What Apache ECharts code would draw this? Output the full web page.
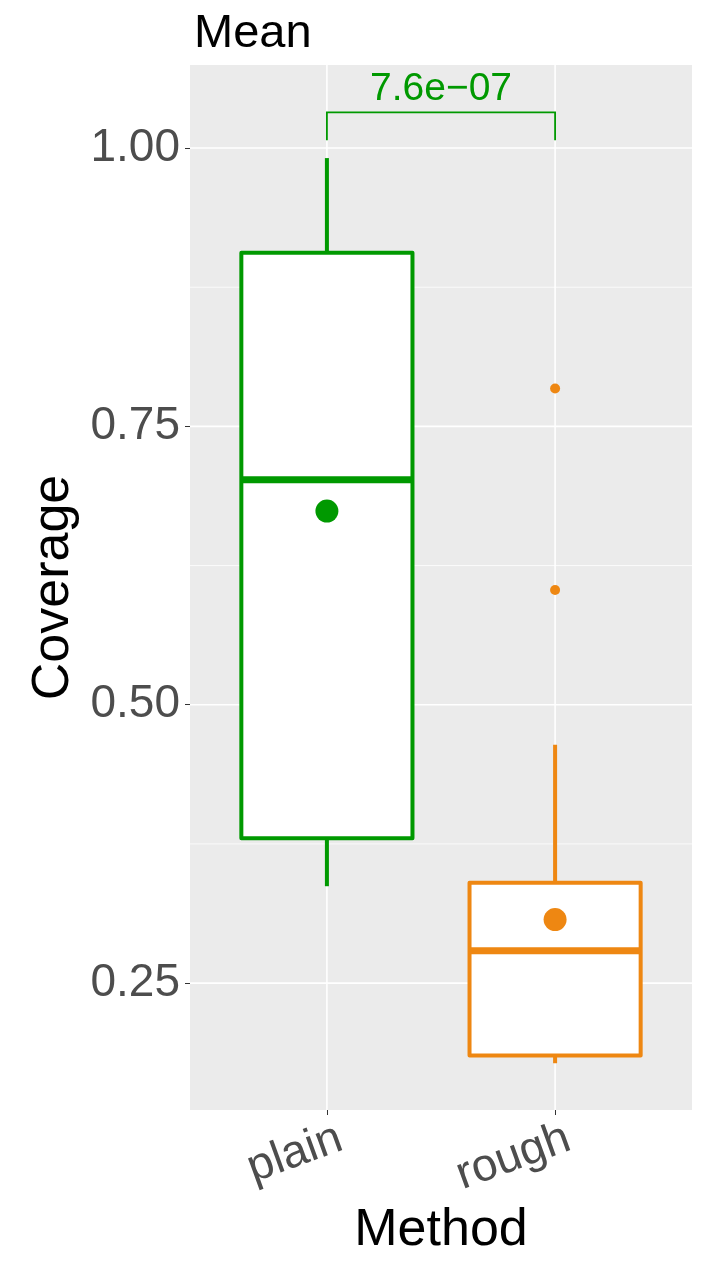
<!DOCTYPE html>
<html>
<head>
<meta charset="utf-8">
<script src="https://cdn.jsdelivr.net/npm/echarts@6/dist/echarts.min.js"></script>
<style>
  html, body { margin: 0; padding: 0; background: #fff; }
  #chart { width: 706px; height: 1270px; }
</style>
</head>
<body>
<div id="chart"></div>
<script>
// box stats
const categories = ["plain", "rough"];
const whiskerLow = [0.337, 0.178];
const q1 = [0.380, 0.185];
const median = [0.702, 0.279];
const q3 = [0.906, 0.340];
const whiskerHigh = [0.991, 0.464];
const means = [0.674, 0.307];
const outlierCat = ["rough", "rough"];
const outlierVal = [0.784, 0.603];
const yTicks = [0.25, 0.5, 0.75, 1.0];
const yMinor = [0.375, 0.625, 0.875];
const pValue = "7.6e\u221207";
const bracketY = 1.032; // top of bracket
const bracketTip = 1.007; // bottom of bracket legs

const colors = ["#009900", "#EE8712"];
const font = "'Liberation Sans', Arial, sans-serif";
const xMin = 0.4, xMax = 2.6, yMin = 0.136, yMax = 1.0746;

const chart = echarts.init(document.getElementById("chart"));

const boxData = categories.map((c, i) => [i + 1, whiskerLow[i], q1[i], median[i], q3[i], whiskerHigh[i], means[i]]);
const outlierData = outlierVal.map((v, i) => [categories.indexOf(outlierCat[i]) + 1, v]);

function hLine(width) {
  return function (params, api) {
    const v = api.value(1);
    const a = api.coord([xMin, v]), b = api.coord([xMax, v]);
    return { type: "line", shape: { x1: a[0], y1: a[1], x2: b[0], y2: b[1] },
      style: { stroke: "#ffffff", lineWidth: width } };
  };
}

const option = {
  animation: false,
  title: {
    text: "Mean", left: 189, top: 6,
    textStyle: { fontFamily: font, fontSize: 47, fontWeight: "normal", color: "#000" }
  },
  grid: { left: 190, right: 14, top: 65, bottom: 160, show: true, backgroundColor: "#EBEBEB", borderWidth: 0 },
  xAxis: {
    type: "value", min: xMin, max: xMax,
    name: "Method", nameLocation: "middle", nameGap: 89,
    nameTextStyle: { fontFamily: font, fontSize: 52, color: "#000" },
    splitLine: { show: false },
    axisLine: { show: false },
    axisTick: { show: true, customValues: [1, 2], length: 5, lineStyle: { color: "#333", width: 1 } },
    axisLabel: {
      customValues: [1.06, 2.06], rotate: 20, margin: 27,
      formatter: v => categories[Math.round(v) - 1],
      fontFamily: font, fontSize: 46, color: "#4D4D4D"
    }
  },
  yAxis: {
    type: "value", min: yMin, max: yMax,
    name: "Coverage", nameLocation: "middle", nameGap: 108, nameRotate: 90,
    nameTextStyle: { fontFamily: font, fontSize: 52, color: "#000" },
    splitLine: { show: false },
    axisLine: { show: false },
    axisTick: { show: true, customValues: yTicks, length: 5, lineStyle: { color: "#333", width: 1 } },
    axisLabel: {
      customValues: yTicks, margin: 10,
      formatter: v => v.toFixed(2),
      fontFamily: font, fontSize: 46, color: "#4D4D4D"
    }
  },
  series: [
    { type: "custom", z: 1, silent: true, data: yMinor.map(v => [1.5, v]), renderItem: hLine(0.8) },
    { type: "custom", z: 1, silent: true, data: yTicks.map(v => [1.5, v]), renderItem: hLine(1.6) },
    {
      type: "custom", z: 1, silent: true,
      data: categories.map((c, i) => [i + 1, 0.5]),
      renderItem: (params, api) => {
        const x = api.value(0);
        const a = api.coord([x, yMin]), b = api.coord([x, yMax]);
        return { type: "line", shape: { x1: a[0], y1: a[1], x2: b[0], y2: b[1] },
          style: { stroke: "#ffffff", lineWidth: 1.6 } };
      }
    },
    {
      type: "custom", z: 2, silent: true,
      data: boxData,
      renderItem: (params, api) => {
        const x = api.value(0);
        const col = colors[params.dataIndex];
        const lo = api.coord([x, api.value(1)]);
        const b1 = api.coord([x - 0.375, api.value(2)]);
        const med = api.coord([x, api.value(3)]);
        const b3 = api.coord([x + 0.375, api.value(4)]);
        const hi = api.coord([x, api.value(5)]);
        const mn = api.coord([x, api.value(6)]);
        const cx = lo[0];
        return {
          type: "group",
          children: [
            { type: "line", shape: { x1: cx, y1: b3[1], x2: cx, y2: hi[1] }, style: { stroke: col, lineWidth: 4 } },
            { type: "line", shape: { x1: cx, y1: b1[1], x2: cx, y2: lo[1] }, style: { stroke: col, lineWidth: 4 } },
            { type: "rect", shape: { x: b1[0], y: b3[1], width: b3[0] - b1[0], height: b1[1] - b3[1] },
              style: { fill: "#ffffff", stroke: col, lineWidth: 4, lineJoin: "round" } },
            { type: "line", shape: { x1: b1[0], y1: med[1], x2: b3[0], y2: med[1] }, style: { stroke: col, lineWidth: 7 } },
            { type: "circle", shape: { cx: mn[0], cy: mn[1], r: 11.5 }, style: { fill: col } }
          ]
        };
      }
    },
    {
      type: "scatter", z: 3, silent: true,
      data: outlierData, symbolSize: 10,
      itemStyle: { color: colors[1], opacity: 1 }
    },
    {
      type: "custom", z: 3, silent: true,
      data: [[1, 2]],
      renderItem: (params, api) => {
        const a = api.coord([api.value(0), bracketTip]);
        const b = api.coord([api.value(0), bracketY]);
        const c = api.coord([api.value(1), bracketY]);
        const d = api.coord([api.value(1), bracketTip]);
        return {
          type: "group",
          children: [
            { type: "polyline", shape: { points: [a, b, c, d] }, style: { stroke: colors[0], lineWidth: 1.8, fill: null } },
            { type: "text", x: (b[0] + c[0]) / 2, y: b[1] - 4,
              style: { text: pValue, fill: colors[0], font: "39px " + font, textAlign: "center", textVerticalAlign: "bottom" } }
          ]
        };
      }
    }
  ]
};

chart.setOption(option);
</script>
</body>
</html>
